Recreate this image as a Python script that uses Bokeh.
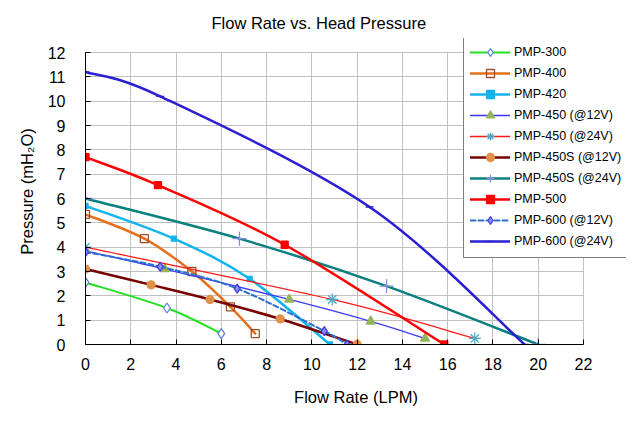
from bokeh.plotting import figure
from bokeh.models import Legend, LegendItem, Range1d, FixedTicker
from bokeh.embed import file_html
from bokeh.resources import INLINE

# ---- data ----
series_names = ["PMP-300", "PMP-400", "PMP-420", "PMP-450 (@12V)", "PMP-450 (@24V)",
                "PMP-450S (@12V)", "PMP-450S (@24V)", "PMP-500", "PMP-600 (@12V)", "PMP-600 (@24V)"]

pmp300_x = [0.0, 3.6, 6.0]
pmp300_y = [2.55, 1.5, 0.45]

pmp400_x = [0.0, 2.6, 4.7, 6.4, 7.5]
pmp400_y = [5.35, 4.35, 3.0, 1.55, 0.45]

pmp420_x = [0.0, 3.9, 7.25, 10.8]
pmp420_y = [5.7, 4.35, 2.7, 0.0]

pmp450_12_x = [0.0, 3.5, 9.0, 12.6, 15.0]
pmp450_12_y = [3.85, 3.1, 1.85, 0.95, 0.25]

pmp450_24_x = [0.0, 10.9, 17.2]
pmp450_24_y = [4.0, 1.85, 0.25]

pmp450s_12_x = [0.0, 2.9, 5.5, 8.6, 12.0]
pmp450s_12_y = [3.1, 2.45, 1.85, 1.05, 0.0]

pmp450s_24_x = [0.0, 6.8, 13.3, 20.0]
pmp450s_24_y = [6.0, 4.35, 2.4, 0.0]

pmp500_x = [0.0, 3.2, 8.8, 15.85]
pmp500_y = [7.7, 6.55, 4.1, 0.0]

pmp600_12_x = [0.0, 3.3, 6.7, 10.55, 11.55]
pmp600_12_y = [3.8, 3.2, 2.3, 0.55, 0.0]

pmp600_24_x = [0.0, 3.3, 12.55, 19.4]
pmp600_24_y = [11.2, 10.2, 5.65, 0.0]

x_ticks = [0, 2, 4, 6, 8, 10, 12, 14, 16, 18, 20, 22]
y_ticks = [0, 1, 2, 3, 4, 5, 6, 7, 8, 9, 10, 11, 12]
x_max = 22
y_max = 12

FONT = "Liberation Sans"

# frame is enlarged to the right and top so that the legend (which overhangs the
# plotting area in the reference) is not clipped; axes and grids stay bounded.
FW, FH = 541, 306
x_end = x_max * FW / 498.0
y_end = y_max * FH / 292.0

p = figure(frame_width=FW, frame_height=FH, min_border_left=85, min_border_right=1,
           min_border_top=38, min_border_bottom=74,
           x_range=Range1d(0, x_end), y_range=Range1d(0, y_end),
           output_backend="svg", toolbar_location=None,
           title="Flow Rate vs. Head Pressure")
p.outline_line_color = None
p.background_fill_color = "white"
p.border_fill_color = "white"

p.title.align = "left"
p.title.offset = 126
p.title.text_font = FONT
p.title.text_font_size = "16.5px"
p.title.text_font_style = "normal"
p.title.text_color = "black"
p.title.standoff = 14

for ax in (p.xaxis[0], p.yaxis[0]):
    ax.axis_line_color = "black"
    ax.major_tick_line_color = "black"
    ax.major_tick_in = 5
    ax.major_tick_out = 0
    ax.minor_tick_line_color = None
    ax.major_label_text_font = FONT
    ax.major_label_text_font_size = "16px"
    ax.major_label_text_color = "black"
    ax.axis_label_text_font = FONT
    ax.axis_label_text_font_size = "16.5px"
    ax.axis_label_text_font_style = "normal"
    ax.axis_label_text_color = "black"

p.xaxis.ticker = FixedTicker(ticks=x_ticks)
p.yaxis.ticker = FixedTicker(ticks=y_ticks)
p.xaxis.bounds = (0, x_max)
p.yaxis.bounds = (0, y_max)
p.xaxis.axis_label = "Flow Rate (LPM)"
p.yaxis.axis_label = "Pressure (mH\u2082O)"
p.xaxis.major_label_standoff = 13
p.yaxis.major_label_standoff = 20
p.xaxis.axis_label_standoff = 15
p.yaxis.axis_label_standoff = 9

p.xgrid.grid_line_color = "#c0c0c0"
p.ygrid.grid_line_color = "#c0c0c0"
p.xgrid.grid_line_width = 1
p.ygrid.grid_line_width = 1
p.xgrid.cross_bounds = (0, y_max)
p.ygrid.cross_bounds = (0, x_max)


def smooth(xs, ys):
    """Bezier segments through the data points (Excel-style smoothed line)."""
    n = len(xs)
    seg = dict(x0=[], y0=[], x1=[], y1=[], cx0=[], cy0=[], cx1=[], cy1=[])
    for i in range(n - 1):
        a = max(i - 1, 0)
        d = min(i + 2, n - 1)
        seg["x0"].append(xs[i]); seg["y0"].append(ys[i])
        seg["x1"].append(xs[i + 1]); seg["y1"].append(ys[i + 1])
        seg["cx0"].append(xs[i] + (xs[i + 1] - xs[a]) / 6.0)
        seg["cy0"].append(ys[i] + (ys[i + 1] - ys[a]) / 6.0)
        seg["cx1"].append(xs[i + 1] - (xs[d] - xs[i]) / 6.0)
        seg["cy1"].append(ys[i + 1] - (ys[d] - ys[i]) / 6.0)
    return seg


styles = [
    dict(xs=pmp300_x, ys=pmp300_y, color="#22e022", width=2, dash="solid",
         marker="diamond", msize=10, mline="#5f82d8", mfill="white"),
    dict(xs=pmp400_x, ys=pmp400_y, color="#e4701a", width=2.5, dash="solid",
         marker="square", msize=8, mline="#a0502a", mfill=None),
    dict(xs=pmp420_x, ys=pmp420_y, color="#12b4ee", width=2.5, dash="solid",
         marker="square", msize=5, mline="#12b4ee", mfill="#12b4ee"),
    dict(xs=pmp450_12_x, ys=pmp450_12_y, color="#3b3bf5", width=1.3, dash="solid",
         marker="triangle", msize=9, mline="#93b45a", mfill="#93b45a"),
    dict(xs=pmp450_24_x, ys=pmp450_24_y, color="#ff1a1a", width=1.3, dash="solid",
         marker="asterisk", msize=12, mline="#4aaac6", mfill=None),
    dict(xs=pmp450s_12_x, ys=pmp450s_12_y, color="#780000", width=2.5, dash="solid",
         marker="circle", msize=8, mline="#e0914c", mfill="#e0914c"),
    dict(xs=pmp450s_24_x, ys=pmp450s_24_y, color="#0a8080", width=2.5, dash="solid",
         marker="cross", msize=14, mline="#8a8ce0", mfill=None),
    dict(xs=pmp500_x, ys=pmp500_y, color="#ff0000", width=2.5, dash="solid",
         marker="square", msize=7, mline="#ff0000", mfill="#ff0000"),
    dict(xs=pmp600_12_x, ys=pmp600_12_y, color="#2a70cc", width=2, dash="5 3",
         marker="diamond", msize=9, mline="#4040d8", mfill="#8a8aff"),
    dict(xs=pmp600_24_x, ys=pmp600_24_y, color="#2b1fd2", width=2.5, dash="solid",
         marker="dash", msize=8, mline="#2b1fd2", mfill="#2b1fd2"),
]

items = []
for name, st in zip(series_names, styles):
    seg = smooth(st["xs"], st["ys"])
    br = p.bezier(x0=seg["x0"], y0=seg["y0"], x1=seg["x1"], y1=seg["y1"],
                  cx0=seg["cx0"], cy0=seg["cy0"], cx1=seg["cx1"], cy1=seg["cy1"],
                  line_color=st["color"], line_width=st["width"], line_dash=st["dash"],
                  line_cap="round")
    sr = p.scatter(x=st["xs"], y=st["ys"], marker=st["marker"], size=st["msize"],
                   line_color=st["mline"], fill_color=st["mfill"], line_width=1.3)
    items.append(LegendItem(label=name, renderers=[br, sr]))

legend = Legend(items=items, location=(378, 86))
legend.border_line_color = "black"
legend.border_line_width = 1
legend.background_fill_color = "white"
legend.background_fill_alpha = 1.0
legend.label_text_font = FONT
legend.label_text_font_size = "12.5px"
legend.label_text_color = "black"
legend.glyph_width = 40
legend.glyph_height = 20
legend.label_height = 20
legend.label_standoff = 4
legend.spacing = 1
legend.padding = 6
legend.margin = 0
p.add_layout(legend, "center")

open("out.html", "w").write(file_html(p, INLINE))
